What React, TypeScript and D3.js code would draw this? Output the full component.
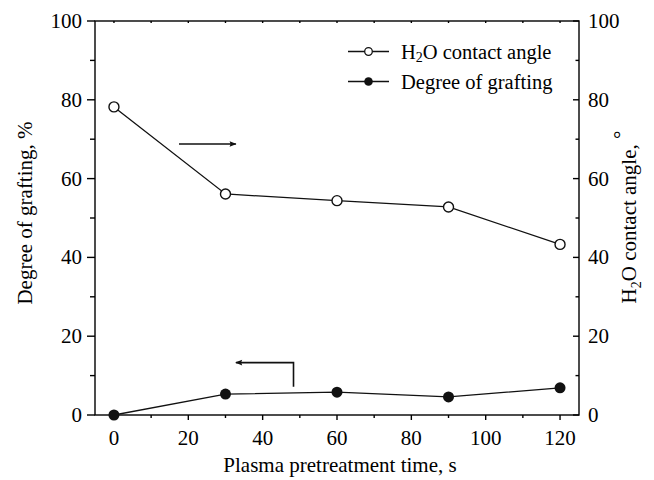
import * as d3 from "d3";

// Plasma pretreatment time (s)
const TIMES = [0, 30, 60, 90, 120];
// H2O contact angle (deg) — right axis
const CONTACT_ANGLE = [78.2, 56.1, 54.4, 52.8, 43.3];
// Degree of grafting (%) — left axis
const GRAFTING = [0, 5.3, 5.8, 4.6, 6.9];

const X_TICKS = [0, 20, 40, 60, 80, 100, 120];
const X_MINOR = [10, 30, 50, 70, 90, 110];
const Y_TICKS = [0, 20, 40, 60, 80, 100];
const Y_MINOR = [10, 30, 50, 70, 90];

// annotation arrows, in data units
const ARROW_RIGHT = { x0: 17.5, x1: 32.8, y: 68.8 };
const ARROW_LEFT = { x0: 48.3, x1: 32.8, y: 13.3, yFoot: 7.2 };

const W = 654;
const H = 480;
const FONT = "'Liberation Serif', 'Times New Roman', serif";

export default function App() {
  const margin = { top: 21, right: 75, bottom: 65, left: 95 };
  const innerW = W - margin.left - margin.right;
  const innerH = H - margin.top - margin.bottom;

  const x = d3.scaleLinear().domain([-5.1, 125.1]).range([0, innerW]);
  const yL = d3.scaleLinear().domain([0, 100]).range([innerH, 0]);
  const yR = d3.scaleLinear().domain([0, 100]).range([innerH, 0]);

  const angleLine = d3
    .line<number>()
    .x((_, i) => x(TIMES[i]))
    .y((d) => yR(d));
  const graftLine = d3
    .line<number>()
    .x((_, i) => x(TIMES[i]))
    .y((d) => yL(d));

  const ax = { stroke: "#000", strokeWidth: 1.4 };

  return (
    <div style={{ position: "fixed", left: 0, top: 0 }}>
      <svg width={W} height={H} style={{ display: "block", background: "#fff" }} fontFamily={FONT}>
        <defs>
          <marker id="head" viewBox="0 0 10 10" refX="9" refY="5" markerWidth="11" markerHeight="7" orient="auto-start-reverse" markerUnits="userSpaceOnUse">
            <path d="M0,1 L10,5 L0,9 L1.5,5 Z" fill="#111" />
          </marker>
        </defs>
        <g transform={`translate(${margin.left},${margin.top})`}>
          {/* frame */}
          <rect x={0} y={0} width={innerW} height={innerH} fill="none" {...ax} />

          {/* left axis ticks (outward) */}
          {Y_TICKS.map((t) => (
            <g key={`l${t}`}>
              <line x1={-8} x2={0} y1={yL(t)} y2={yL(t)} {...ax} />
              <text x={-13} y={yL(t)} fontSize={21} textAnchor="end" dominantBaseline="central">
                {t}
              </text>
            </g>
          ))}
          {Y_MINOR.map((t) => (
            <line key={`lm${t}`} x1={-5} x2={0} y1={yL(t)} y2={yL(t)} {...ax} />
          ))}

          {/* right axis ticks (inward) */}
          {Y_TICKS.map((t) => (
            <g key={`r${t}`}>
              <line x1={innerW - 6} x2={innerW} y1={yR(t)} y2={yR(t)} {...ax} />
              <text x={innerW + 9} y={yR(t)} fontSize={21} dominantBaseline="central">
                {t}
              </text>
            </g>
          ))}
          {Y_MINOR.map((t) => (
            <line key={`rm${t}`} x1={innerW - 3.5} x2={innerW} y1={yR(t)} y2={yR(t)} {...ax} />
          ))}

          {/* bottom axis ticks (outward) */}
          {X_TICKS.map((t) => (
            <g key={`b${t}`}>
              <line x1={x(t)} x2={x(t)} y1={innerH} y2={innerH + 5} {...ax} />
              <text x={x(t)} y={innerH + 30} fontSize={21} textAnchor="middle">
                {t}
              </text>
            </g>
          ))}
          {X_MINOR.map((t) => (
            <line key={`bm${t}`} x1={x(t)} x2={x(t)} y1={innerH} y2={innerH + 3} {...ax} />
          ))}

          {/* top axis ticks (inward, tiny) */}
          {[...X_TICKS, ...X_MINOR].map((t) => (
            <line key={`t${t}`} x1={x(t)} x2={x(t)} y1={0} y2={2} {...ax} />
          ))}

          {/* series */}
          <path d={angleLine(CONTACT_ANGLE) ?? ""} fill="none" stroke="#111" strokeWidth={1.3} />
          <path d={graftLine(GRAFTING) ?? ""} fill="none" stroke="#111" strokeWidth={1.3} />
          {CONTACT_ANGLE.map((v, i) => (
            <circle key={`a${i}`} cx={x(TIMES[i])} cy={yR(v)} r={5} fill="#fff" stroke="#111" strokeWidth={1.4} />
          ))}
          {GRAFTING.map((v, i) => (
            <circle key={`g${i}`} cx={x(TIMES[i])} cy={yL(v)} r={5.5} fill="#111" />
          ))}

          {/* arrows */}
          <line
            x1={x(ARROW_RIGHT.x0)}
            x2={x(ARROW_RIGHT.x1)}
            y1={yR(ARROW_RIGHT.y)}
            y2={yR(ARROW_RIGHT.y)}
            stroke="#111"
            strokeWidth={1.6}
            markerEnd="url(#head)"
          />
          <path
            d={`M${x(ARROW_LEFT.x0)},${yL(ARROW_LEFT.yFoot)} L${x(ARROW_LEFT.x0)},${yL(ARROW_LEFT.y)} L${x(ARROW_LEFT.x1)},${yL(ARROW_LEFT.y)}`}
            fill="none"
            stroke="#111"
            strokeWidth={1.6}
            markerEnd="url(#head)"
          />
        </g>

        {/* legend */}
        <g fontSize={20.5}>
          <line x1={348} x2={389} y1={51.5} y2={51.5} stroke="#111" strokeWidth={1.3} />
          <circle cx={368.5} cy={51.5} r={3.8} fill="#fff" stroke="#111" strokeWidth={1.3} />
          <text x={401} y={51.5} dominantBaseline="central">
            H<tspan fontSize={14} dy={5}>2</tspan>
            <tspan dy={-5}>O contact angle</tspan>
          </text>
          <line x1={348} x2={389} y1={81.5} y2={81.5} stroke="#111" strokeWidth={1.3} />
          <circle cx={368.5} cy={81.5} r={4.3} fill="#111" />
          <text x={401} y={81.5} dominantBaseline="central">
            Degree of grafting
          </text>
        </g>

        {/* axis titles */}
        <text x={340} y={472} fontSize={21} textAnchor="middle">
          Plasma pretreatment time, s
        </text>
        <text transform="translate(32,213) rotate(-90)" fontSize={21} textAnchor="middle">
          Degree of grafting, %
        </text>
        <text transform="translate(636,217) rotate(-90)" fontSize={21} textAnchor="middle">
          H<tspan fontSize={14} dy={5}>2</tspan>
          <tspan dy={-5}>O contact angle, </tspan>
          <tspan dy={-8}>°</tspan>
        </text>
      </svg>
    </div>
  );
}
